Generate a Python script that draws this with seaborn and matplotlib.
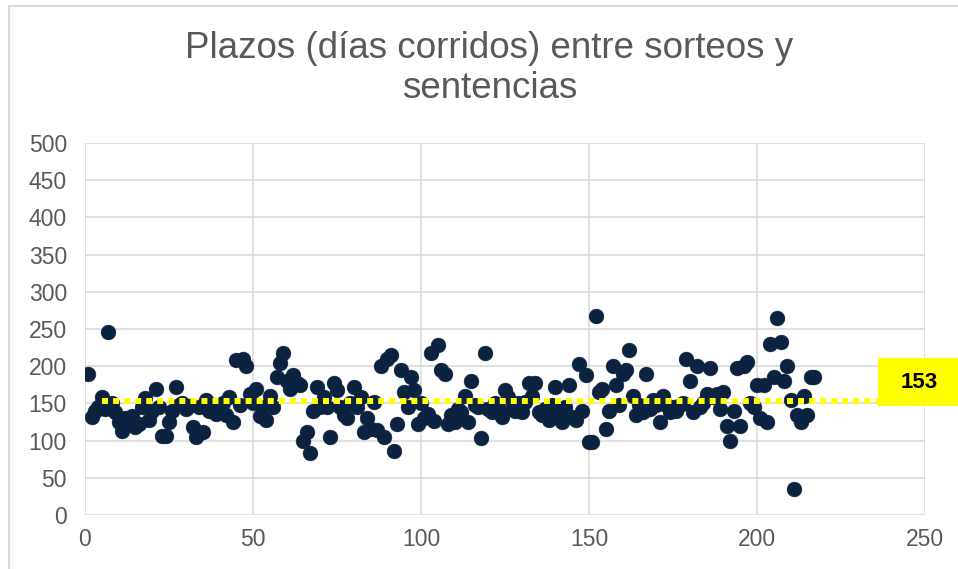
import numpy as np
import pandas as pd
import matplotlib.pyplot as plt
import seaborn as sns
from matplotlib.patches import Rectangle
from matplotlib.transforms import IdentityTransform

# days between draw and sentence, one value per case
dias = [
    190, 132, 140, 145, 158, 142, 246, 150, 138, 125,
    113, 130, 125, 133, 118, 122, 145, 157, 128, 140,
    170, 145, 106, 106, 125, 140, 172, 148, 150, 142,
    146, 118, 105, 145, 112, 155, 140, 148, 136, 142,
    150, 135, 158, 125, 208, 148, 210, 200, 162, 150,
    170, 133, 145, 128, 160, 145, 185, 204, 218, 180,
    170, 188, 178, 175, 100, 112, 84, 140, 172, 145,
    158, 145, 105, 178, 168, 145, 135, 130, 150, 172,
    145, 158, 112, 130, 115, 152, 114, 200, 105, 210,
    215, 86, 122, 195, 165, 145, 185, 168, 122, 150,
    130, 136, 218, 127, 228, 195, 190, 122, 135, 125,
    142, 138, 160, 125, 180, 148, 145, 104, 218, 142,
    138, 150, 145, 132, 168, 158, 143, 140, 150, 138,
    152, 177, 160, 178, 138, 135, 142, 128, 148, 172,
    140, 125, 145, 175, 132, 128, 203, 140, 188, 98,
    98, 268, 165, 170, 115, 140, 200, 175, 148, 190,
    195, 222, 160, 135, 148, 138, 190, 142, 155, 148,
    125, 160, 148, 138, 145, 140, 148, 150, 210, 180,
    138, 200, 145, 150, 162, 198, 158, 162, 142, 165,
    120, 100, 140, 198, 120, 200, 205, 150, 145, 175,
    130, 175, 125, 230, 185, 265, 232, 180, 200, 155,
    35, 135, 125, 160, 135, 185, 185,
]
casos = list(range(1, len(dias) + 1))

# average line and its label
promedio = 153
promedio_x = [5, 236]

titulo = "Plazos (días corridos) entre sorteos y\nsentencias"
gris = "#595959"
azul = "#0b2340"

sns.set_style("white")
plt.rcParams['font.family'] = ['Liberation Sans', 'DejaVu Sans']

fig = plt.figure(figsize=(9.58, 5.69), dpi=100)
ax = fig.add_axes([0.0887, 0.0949, 0.8769, 0.6538])

df = pd.DataFrame({'caso': casos, 'dias': dias})
sns.scatterplot(data=df, x='caso', y='dias', ax=ax, s=115, color=azul,
                edgecolor=azul, linewidth=0.3, zorder=3)

ax.set_xlim(0, 250)
ax.set_ylim(0, 500)
ax.set_xticks(np.arange(0, 251, 50))
ax.set_yticks(np.arange(0, 501, 50))
ax.grid(True, color='#d9d9d9', linewidth=1.1)
ax.set_axisbelow(True)
for s in ax.spines.values():
    s.set_visible(False)
ax.tick_params(axis='both', length=0, labelsize=16.5, labelcolor=gris)
ax.tick_params(axis='x', pad=9)
ax.tick_params(axis='y', pad=13)
ax.set_xlabel('')
ax.set_ylabel('')

# mean line (dotted yellow)
df_prom = pd.DataFrame({'x': promedio_x, 'y': [promedio] * len(promedio_x)})
ax.plot(df_prom['x'], df_prom['y'], color='#ffff00', linewidth=4.3,
        linestyle=(0, (1.0, 0.85)), solid_capstyle='butt', zorder=4)

# label box at the end of the mean line (size in pixels)
x0, y0 = ax.transData.transform((promedio_x[-1], promedio))
fig.patches.append(Rectangle((x0, y0 - 5), 84, 48, transform=IdentityTransform(),
                             fc='#ffff00', ec='none', zorder=5))
fig.text(x0 + 41, y0 + 19, str(promedio), transform=IdentityTransform(),
         ha='center', va='center', fontsize=16, fontweight='bold', color='black',
         zorder=6)

fig.text(0.511, 0.879, titulo, ha='center', va='center', fontsize=26.5,
         color=gris, linespacing=1.18)

# chart area border
fig.patches.append(Rectangle((0.0094, -0.1), 1.2, 1.09, transform=fig.transFigure,
                             fill=False, ec='#d9d9d9', lw=1.5))

fig.savefig('out.png', dpi=100)
